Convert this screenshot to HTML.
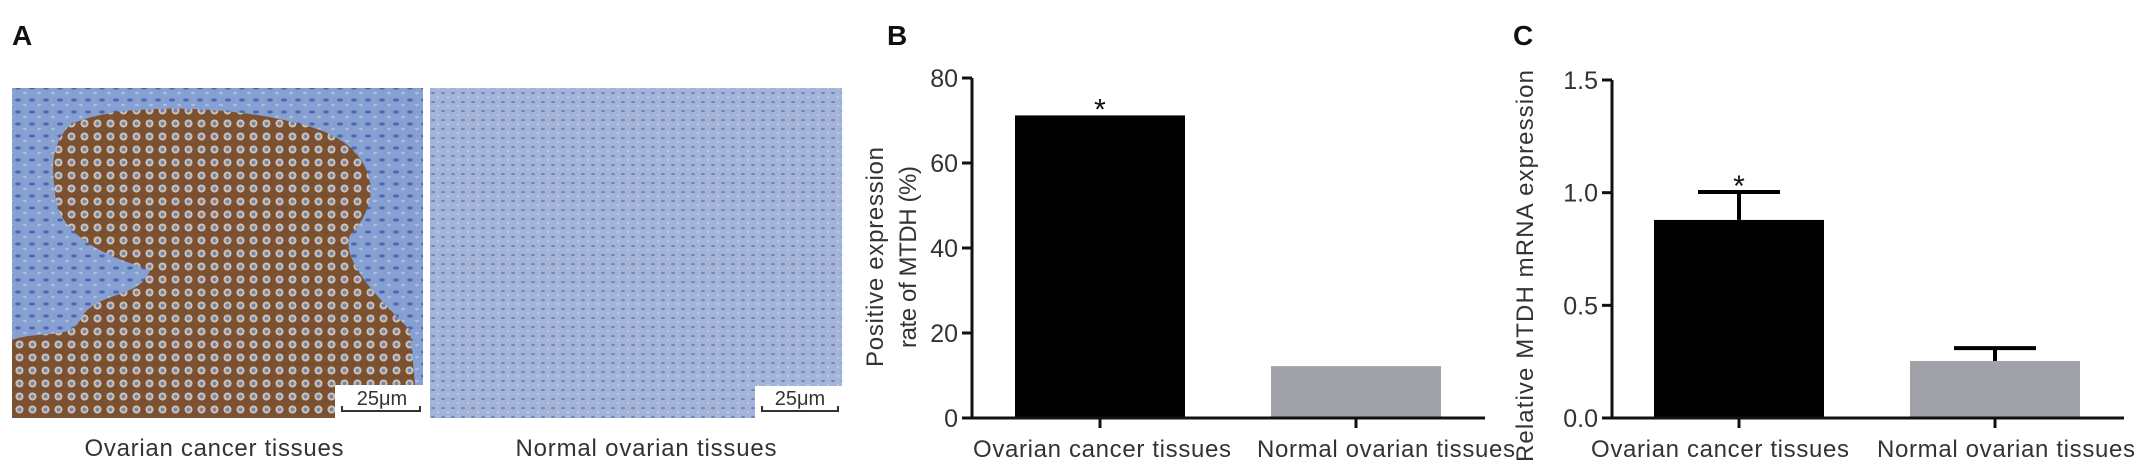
<!DOCTYPE html>
<html><head><meta charset="utf-8"><style>
html,body{margin:0;padding:0;background:#fff;}
svg{display:block;font-family:"Liberation Sans",Arial,sans-serif;}
</style></head><body>
<svg id="fig" width="2150" height="475" viewBox="0 0 2150 475">
<defs>
  <pattern id="stroma" width="14" height="12" patternUnits="userSpaceOnUse">
    <rect width="14" height="12" fill="#86a0d2"/>
    <ellipse cx="4" cy="4" rx="3" ry="1.6" fill="#4f67b0"/>
    <ellipse cx="11" cy="9" rx="2" ry="1.2" fill="#a9bde2"/>
  </pattern>
  <pattern id="cells" width="13" height="13" patternUnits="userSpaceOnUse">
    <rect width="13" height="13" fill="#7a4a26"/>
    <circle cx="6.5" cy="6.5" r="4" fill="#d8c7a8"/>
    <circle cx="6.5" cy="6.5" r="2" fill="#6d7fb8"/>
  </pattern>
  <pattern id="normal" width="10" height="9" patternUnits="userSpaceOnUse">
    <rect width="10" height="9" fill="#a3b4d8"/>
    <ellipse cx="3" cy="3" rx="2" ry="1" fill="#6f84bf"/>
    <circle cx="8" cy="7" r="1" fill="#c5cfe6"/>
  </pattern>
</defs>

<!-- Panel A -->
<g>
  <text x="12" y="45" font-size="28" font-weight="bold" fill="#111">A</text>
  <g>
    <rect x="12" y="88" width="411" height="330" fill="url(#stroma)"/>
    <path d="M70,125 C120,100 250,105 320,130 C375,150 385,200 350,235 C340,260 380,300 410,330 L418,418 L12,418 L12,340 C40,330 70,340 80,320 C95,290 140,300 150,270 C120,260 55,240 55,190 C50,160 55,140 70,125 Z" fill="url(#cells)" opacity="0.92"/>
    <rect x="335" y="385" width="88" height="33" fill="#fff"/>
    <text x="382" y="405" font-size="20" text-anchor="middle" fill="#333">25μm</text>
    <path d="M342,406 V411 H420 V406" stroke="#333" stroke-width="2" fill="none"/>
  </g>
  <g>
    <rect x="430" y="88" width="412" height="330" fill="url(#normal)"/>
    <rect x="755" y="386" width="87" height="32" fill="#fff"/>
    <text x="800" y="405" font-size="20" text-anchor="middle" fill="#333">25μm</text>
    <path d="M762,406 V411 H838 V406" stroke="#333" stroke-width="2" fill="none"/>
  </g>
  <text x="214" y="456" font-size="24" text-anchor="middle" textLength="259" fill="#333">Ovarian cancer tissues</text>
  <text x="646" y="456" font-size="24" text-anchor="middle" textLength="261" fill="#333">Normal ovarian tissues</text>
</g>

<g id="chartB"></g>
<g id="chartC"></g>
</svg>

<script>
const categories = ["Ovarian cancer tissues", "Normal ovarian tissues"];
const bValues = [71.2, 12.2];
const bTicks = [0, 20, 40, 60, 80];
const cValues = [0.879, 0.253];
const cErrors = [0.124, 0.057];
const cTicks = ["0.0", "0.5", "1.0", "1.5"];
const barColors = ["#000000", "#a1a1a8"];

const NS = "http://www.w3.org/2000/svg";
function mk(parent, tag, attrs, text) {
  const e = document.createElementNS(NS, tag);
  for (const k in attrs) e.setAttribute(k, attrs[k]);
  if (text !== undefined) e.textContent = text;
  parent.appendChild(e);
  return e;
}

function drawChart(g, cfg) {
  const y = v => cfg.y0 - (v - cfg.min) / (cfg.max - cfg.min) * (cfg.y0 - cfg.yTop);
  const x = i => cfg.centers[i];
  const lab = mk(g, "text", {x: cfg.labelX, y: 45, "font-size": 28, "font-weight": "bold", fill: "#111"}, cfg.letter);
  
  
  cfg.values.forEach((v, i) => {
    const r = mk(g, "rect", {x: x(i) - cfg.barW / 2, y: y(v), width: cfg.barW, height: cfg.y0 - y(v), fill: barColors[i]});
    
    
    if (cfg.errors) {
      const top = y(v + cfg.errors[i]);
      const eb = mk(g, "path", {d: `M${x(i)},${y(v)} V${top} M${x(i) - 41},${top} H${x(i) + 41}`, stroke: "#000", "stroke-width": 4, fill: "none"});
      
      
    }
  });
  const topVal = cfg.values[0] + (cfg.errors ? cfg.errors[0] : 0);
  const st = mk(g, "text", {x: x(0), y: y(topVal) + 4, "font-size": 30, "text-anchor": "middle", fill: "#111"}, "*");
  
  
  const ya = mk(g, "path", {d: `M${cfg.axX},${cfg.yTop} V${cfg.y0}`, stroke: "#111", "stroke-width": 3, fill: "none"});
  
  
  cfg.ticks.forEach(t => {
    const v = parseFloat(t);
    const tk = mk(g, "path", {d: `M${cfg.axX - 10},${y(v)} H${cfg.axX}`, stroke: "#111", "stroke-width": 3});
    
    
    const tl = mk(g, "text", {x: cfg.axX - 14, y: y(v) + 9, "font-size": 25, "text-anchor": "end", fill: "#333"}, String(t));
    
    
  });
  const xa = mk(g, "path", {d: `M${cfg.axX},${cfg.y0} H${cfg.xEnd}`, stroke: "#111", "stroke-width": 3, fill: "none"});
  
  
  categories.forEach((c, i) => {
    const tk = mk(g, "path", {d: `M${x(i)},${cfg.y0} V${cfg.y0 + 10}`, stroke: "#111", "stroke-width": 3});
    
    
    const tl = mk(g, "text", {x: cfg.labelCenters[i], y: 457, "font-size": 24, "text-anchor": "middle", textLength: 258, fill: "#333"}, c);
    
    
  });
  cfg.title.forEach((line, j) => {
    const tt = mk(g, "text", {x: 0, y: 0, "font-size": 24, "text-anchor": "middle", fill: "#333", textLength: cfg.titleLen[j],
      transform: `translate(${cfg.titleX[j]},${cfg.titleY}) rotate(-90)`}, line);
    
    
  });
}

drawChart(document.getElementById("chartB"), {
  letter: "B", labelX: 887, min: 0, max: 80, y0: 418, yTop: 78, axX: 972, xEnd: 1485,
  centers: [1100, 1356], barW: 170, values: bValues, ticks: bTicks,
  labelCenters: [1102, 1386],
  title: ["Positive expression", "rate of MTDH (%)"], titleX: [883, 916], titleY: 257, titleLen: [220, 182]
});
drawChart(document.getElementById("chartC"), {
  letter: "C", labelX: 1513, min: 0, max: 1.5, y0: 418, yTop: 80, axX: 1612, xEnd: 2124,
  centers: [1739, 1995], barW: 170, values: cValues, errors: cErrors, ticks: cTicks,
  labelCenters: [1720, 2006],
  title: ["Relative MTDH mRNA expression"], titleX: [1533], titleY: 266, titleLen: [392]
});
</script>
</body></html>
